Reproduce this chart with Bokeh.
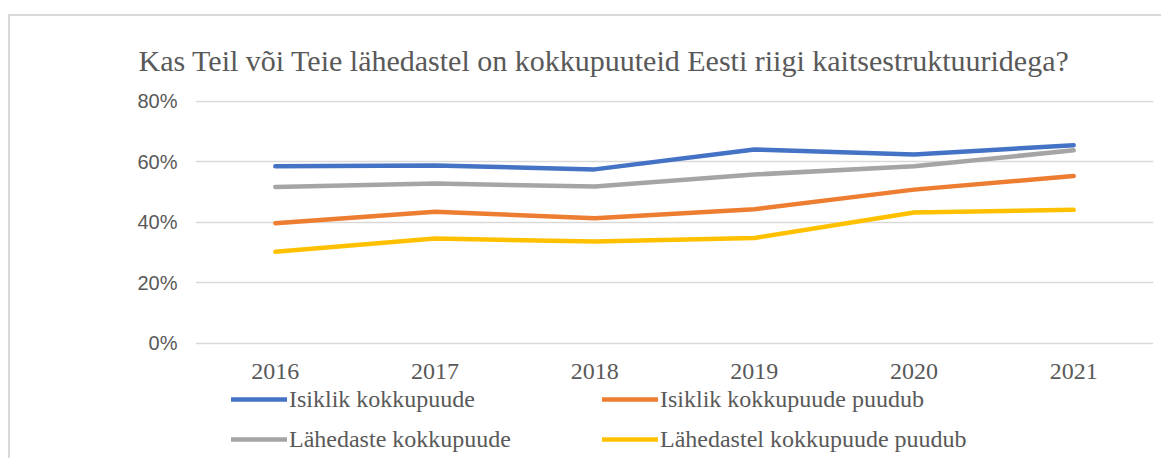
from bokeh.plotting import figure
from bokeh.models import (Range1d, FixedTicker, NumeralTickFormatter, Legend, LegendItem, Title)
from bokeh.embed import file_html
from bokeh.resources import INLINE

years = ["2016", "2017", "2018", "2019", "2020", "2021"]
isiklik = [0.585, 0.588, 0.575, 0.641, 0.624, 0.655]
isiklik_puudub = [0.397, 0.435, 0.413, 0.443, 0.508, 0.553]
lahedaste = [0.517, 0.528, 0.518, 0.558, 0.585, 0.638]
lahedastel_puudub = [0.302, 0.346, 0.336, 0.348, 0.432, 0.441]

names = ["Isiklik kokkupuude", "Isiklik kokkupuude puudub",
         "Lähedaste kokkupuude", "Lähedastel kokkupuude puudub"]
series = [isiklik, isiklik_puudub, lahedaste, lahedastel_puudub]
colors = ["#4472C4", "#ED7D31", "#A5A5A5", "#FFC000"]
y_ticks = [0, 0.2, 0.4, 0.6, 0.8]
title_text = "Kas Teil või Teie lähedastel on kokkupuuteid Eesti riigi kaitsestruktuuridega?"

p = figure(x_range=years, y_range=Range1d(-0.382, 0.803),
           frame_width=958, frame_height=358,
           min_border_left=185, min_border_right=8, min_border_top=84, min_border_bottom=0,
           output_backend="svg", toolbar_location=None)
p.styles = {"margin-top": "14px", "margin-left": "8px",
            "border-top": "2px solid #d9d9d9", "border-left": "2px solid #d9d9d9"}
p.outline_line_color = None
p.background_fill_color = "white"
p.border_fill_color = "white"

renderers = []
for vals, c in zip(series, colors):
    r = p.line(years, vals, line_color=c, line_width=4.5, line_cap="round", line_join="round")
    renderers.append(r)

p.yaxis.ticker = FixedTicker(ticks=y_ticks)
p.yaxis.formatter = NumeralTickFormatter(format="0%")
for ax in [p.xaxis[0], p.yaxis[0]]:
    ax.axis_line_color = None
    ax.major_tick_line_color = None
    ax.minor_tick_line_color = None
    ax.major_tick_out = 0
    ax.minor_tick_out = 0
    ax.major_label_text_color = "#595959"
p.yaxis.major_label_text_font = "Liberation Sans"
p.yaxis.major_label_text_font_size = "20px"
p.yaxis.major_label_standoff = 18
p.xaxis.fixed_location = 0
p.xaxis.major_label_text_font = "Liberation Serif"
p.xaxis.major_label_text_font_size = "24px"
p.xaxis.major_label_standoff = 21

p.xgrid.grid_line_color = None
p.ygrid.grid_line_color = "#d9d9d9"
p.ygrid.grid_line_width = 1.5

t = Title(text=title_text, align="left", offset=-57, standoff=48,
          text_font="Liberation Serif", text_font_size="30px",
          text_font_style="normal", text_color="#595959")
p.add_layout(t, "above")

order = [0, 2, 1, 3]
items = [LegendItem(label=names[i], renderers=[renderers[i]]) for i in order]
leg = Legend(items=items, ncols=2, location=(36, 5), padding=0, margin=0,
             glyph_width=56, glyph_height=20, label_standoff=2, label_width=301,
             label_height=28, spacing=12,
             label_text_font="Liberation Serif", label_text_font_size="24px",
             label_text_color="#595959", border_line_color=None,
             background_fill_alpha=0)
p.add_layout(leg, "center")

open("out.html", "w").write(file_html(p, INLINE))
